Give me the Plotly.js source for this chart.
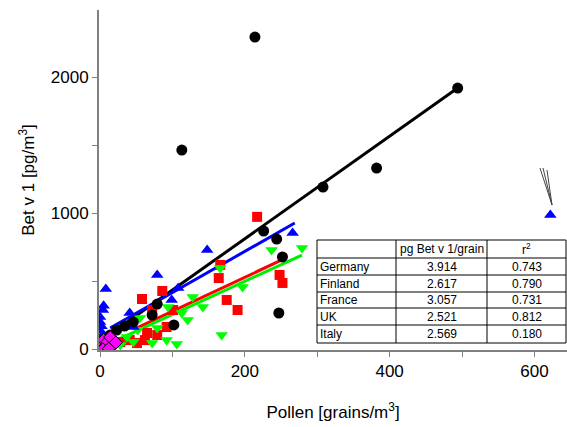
<!DOCTYPE html>
<html><head><meta charset="utf-8">
<script src="https://cdn.plot.ly/plotly-3.0.1.min.js"></script>
<style>body{margin:0;background:#fff}</style>
</head><body><div id="c" style="width:567px;height:427px"></div>
<script>
const germanyX=[214,113,494,308,382,226,244,252,247,102,79,72,46,34,23,14];
const germanyY=[2296,1465,1921,1193,1333,870,811,679,267,179,333,252,201,171,142,105];
const finlandX=[8,4,0,0,0,3,148,79,108,99,41,46,266,622,5,2];
const finlandY=[443,289,238,200,140,105,730,546,451,363,267,164,855,987,320,170];
const franceX=[217,166,164,175,190,248,252,86,58,72,65,79,51,92,101,41,28,62];
const franceY=[974,621,524,363,289,547,488,429,370,289,120,105,46,164,289,68,54,68];
const ukX=[279,237,166,128,142,197,168,113,121,94,55,37,46,72,92,106,79,52,28];
const ukY=[745,730,598,385,311,459,105,267,216,311,230,91,54,46,68,39,157,142,32];
const italyX=[0,2,5,8,10,14,18,22,4,12];
const italyY=[10,40,70,25,55,90,30,50,0,5];
const fitGermanyX=[18,494], fitGermanyY=[127,1921];
const fitFinlandX=[14,269], fitFinlandY=[157,929];
const fitFranceX=[51,251], fitFranceY=[157,657];
const fitUKX=[23,279], fitUKY=[68,693];
const tableHeader=["","pg Bet v 1/grain","r<sup>2</sup>"];
const countries=["Germany","Finland","France","UK","Italy"];
const slopes=["3.914","2.617","3.057","2.521","2.569"];
const r2=["0.743","0.790","0.731","0.812","0.180"];

const L=99,R=567,T=10,B=350;
const px=x=>(x-L)/(R-L), py=y=>(B-y)/(B-T);
const sc=(x,y,sym,col,size,lw,name)=>({x,y,type:'scatter',mode:'markers',name,
 marker:{symbol:sym,color:col,size,line:{color:'black',width:lw}}});
const ln=(x,y,col)=>({x,y,type:'scatter',mode:'lines',line:{color:col,width:3},hoverinfo:'skip'});
const data=[
 ln(fitGermanyX,fitGermanyY,'black'),ln(fitFinlandX,fitFinlandY,'#0000ff'),
 ln(fitFranceX,fitFranceY,'#ff0000'),ln(fitUKX,fitUKY,'#00ee00'),
 sc(franceX,franceY,'square','#ff0000',10,0,'France'),
 sc(ukX,ukY,'triangle-down','#00ff00',11,0,'UK'),
 sc(finlandX,finlandY,'triangle-up','#0000ff',11,0,'Finland'),
 sc(germanyX,germanyY,'circle','black',11,0,'Germany'),
 sc(italyX,italyY,'diamond','#ff00ff',10,1,'Italy')
];
const shapes=[],ann=[];
const cols=[317,396,487,566], rows=[240,258,275,292,308,325,343];
shapes.push({type:'rect',xref:'paper',yref:'paper',x0:px(cols[0]),x1:px(cols[3]),y0:py(rows[6]),y1:py(rows[0]),line:{color:'black',width:1},fillcolor:'white',layer:'above'});
cols.slice(1,3).forEach(c=>shapes.push({type:'line',xref:'paper',yref:'paper',x0:px(c),x1:px(c),y0:py(rows[6]),y1:py(rows[0]),line:{color:'black',width:1}}));
rows.slice(1,6).forEach(r=>shapes.push({type:'line',xref:'paper',yref:'paper',x0:px(cols[0]),x1:px(cols[3]),y0:py(r),y1:py(r),line:{color:'black',width:1}}));
const tf={family:'Liberation Sans, Arial',size:12,color:'black'};
const cell=(t,r,c,al)=>ann.push({text:t,xref:'paper',yref:'paper',showarrow:false,font:tf,
 x:al==='left'?px(cols[c]+1):px((cols[c]+cols[c+1])/2),xanchor:al==='left'?'left':'center',
 y:py((rows[r]+rows[r+1])/2),yanchor:'middle'});
tableHeader.forEach((t,i)=>cell(t,0,i,i?'center':'left'));
countries.forEach((c,i)=>{cell(c,i+1,0,'left');cell(slopes[i],i+1,1,'center');cell(r2[i],i+1,2,'center');});
[[540,168],[543,168],[547,170]].forEach(p=>shapes.push({type:'line',xref:'paper',yref:'paper',x0:px(p[0]),y0:py(p[1]),x1:px(552),y1:py(205),line:{color:'#444',width:1}}));
const f={family:'Liberation Sans, Arial',size:17,color:'black'};
const layout={width:567,height:427,margin:{l:L,r:0,t:T,b:427-B},showlegend:false,
 paper_bgcolor:'white',plot_bgcolor:'white',font:f,
 xaxis:{range:[-1.4,645],tickvals:[0,200,400,600],ticks:'outside',ticklen:5,tickcolor:'#808080',
  minor:{tickvals:[100,300,500],ticks:'outside',ticklen:5,tickcolor:'#808080'},
  showgrid:false,zeroline:false,showline:true,linecolor:'#808080',linewidth:2,tickfont:f,
  title:{text:'Pollen [grains/m<sup>3</sup>]',font:f,standoff:26}},
 yaxis:{range:[-5,2495],tickvals:[0,1000,2000],ticks:'outside',ticklen:5,tickcolor:'#808080',
  minor:{tickvals:[500,1500],ticks:'outside',ticklen:5,tickcolor:'#808080'},
  showgrid:false,zeroline:false,showline:true,linecolor:'#808080',linewidth:2,tickfont:f,
  title:{text:'Bet v 1 [pg/m<sup>3</sup>]',font:f,standoff:12}},
 shapes,annotations:ann};
Plotly.newPlot('c',data,layout,{displayModeBar:false,staticPlot:true});
</script></body></html>
